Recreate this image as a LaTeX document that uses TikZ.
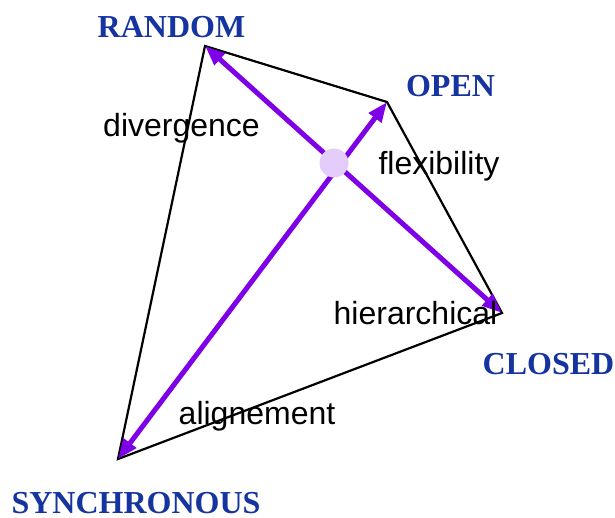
\documentclass[tikz,border=0pt]{standalone}
\usepackage{fontspec}
\setmainfont{Liberation Serif}
\newfontfamily\labsans{Liberation Sans}
\usetikzlibrary{arrows.meta}
\definecolor{corner}{RGB}{22,52,160}
\definecolor{axis}{RGB}{125,0,230}
\definecolor{hub}{RGB}{228,205,250}
\tikzset{
  cornerlabel/.style={text=corner, font=\fontsize{32}{34}\selectfont\bfseries, anchor=base, inner sep=0pt},
  sidelabel/.style={text=black, font=\labsans\fontsize{32}{34}\selectfont, anchor=base, inner sep=0pt},
  edge/.style={black, line width=2.2pt},
  axisarrow/.style={axis, line width=5pt, {Triangle[length=20pt,width=15pt]}-{Triangle[length=20pt,width=15pt]}}
}
\begin{document}
\begin{tikzpicture}[x=1pt,y=-1pt]
\useasboundingbox (0,0) rectangle (615,517);
\coordinate (R) at (205,46);
\coordinate (O) at (387,102);
\coordinate (C) at (502,313);
\coordinate (S) at (118,459);
\draw[edge] (R) -- (O) -- (C) -- (S) -- cycle;
\draw[axisarrow] (R) -- (C);
\draw[axisarrow] (S) -- (O);
\node[circle, fill=hub, inner sep=0pt, minimum size=29pt] (hubnode) at (334,163) {};
\node[cornerlabel] (random) at (171.5,37) {RANDOM};
\node[cornerlabel] (open) at (450.5,96) {OPEN};
\node[cornerlabel] (closed) at (548.5,374) {CLOSED};
\node[cornerlabel] (sync) at (136,513) {SYNCHRONOUS};
\node[sidelabel] (div) at (181.5,136) {divergence};
\node[sidelabel] (flex) at (439,174) {flexibility};
\node[sidelabel] (hier) at (415.5,324) {hierarchical};
\node[sidelabel] (align) at (257,424) {alignement};
\end{tikzpicture}
\end{document}
